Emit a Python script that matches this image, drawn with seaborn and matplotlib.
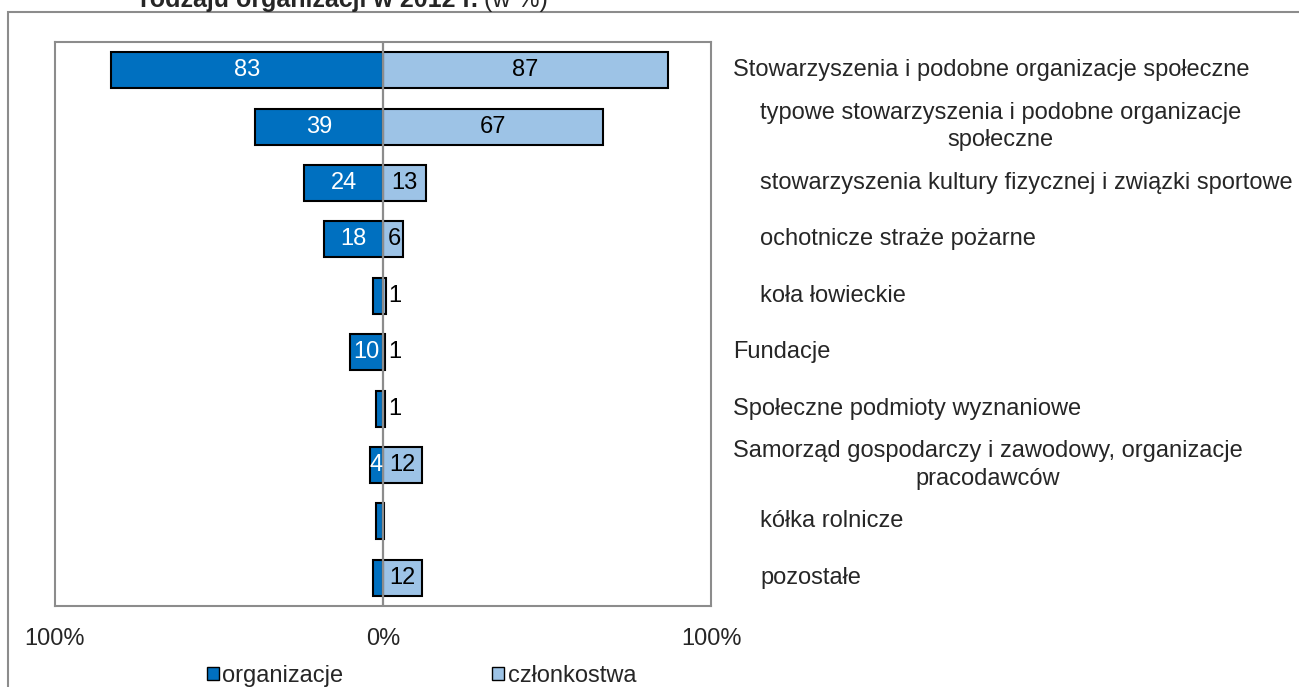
import numpy as np
import pandas as pd
import matplotlib
matplotlib.use("Agg")
import matplotlib.pyplot as plt
from matplotlib.patches import Patch, Rectangle
import seaborn as sns

# data (w %)
categories = [
    "Stowarzyszenia i podobne organizacje społeczne",
    "typowe stowarzyszenia i podobne organizacje\nspołeczne",
    "stowarzyszenia kultury fizycznej i związki sportowe",
    "ochotnicze straże pożarne",
    "koła łowieckie",
    "Fundacje",
    "Społeczne podmioty wyznaniowe",
    "Samorząd gospodarczy i zawodowy, organizacje\npracodawców",
    "kółka rolnicze",
    "pozostałe",
]
organizacje = [83, 39, 24, 18, 3, 10, 2, 4, 2, 3]
czlonkostwa = [87, 67, 13, 6, 1, 0.5, 0.6, 12, 0.3, 12]
org_labels = ["83", "39", "24", "18", "", "10", "", "4", "", ""]
czl_labels = ["87", "67", "13", "6", "1", "1", "1", "12", "", "12"]
indent = [False, True, True, True, True, False, False, False, True, True]

dark = "#0070C0"
light = "#9DC3E6"

sns.set_style("white")
plt.rcParams["font.family"] = ["Liberation Sans", "DejaVu Sans"]

df = pd.DataFrame({"kat": categories, "org": organizacje, "czl": czlonkostwa})
df["org_neg"] = -df["org"]

W, H = 1299, 687
fig = plt.figure(figsize=(W / 100, H / 100), dpi=100)
ax = fig.add_axes([55 / W, 1 - 606 / H, (711 - 55) / W, (606 - 42) / H])

sns.barplot(data=df, x="org_neg", y="kat", color=dark, width=0.64,
            edgecolor="black", linewidth=1.5, saturation=1, ax=ax, zorder=2)
sns.barplot(data=df, x="czl", y="kat", color=light, width=0.64,
            edgecolor="black", linewidth=1.5, saturation=1, ax=ax, zorder=2)

fs = 17
ax.set_xlim(-100, 100)
ax.set_ylim(9.5, -0.5)
ax.axvline(0, color="#8c8c8c", lw=1.6, zorder=5)
ax.set_xticks([-100, 0, 100])
ax.set_xticklabels(["100%", "0%", "100%"], fontsize=fs)
ax.tick_params(axis="x", length=0, pad=16)
ax.set_yticks([])
ax.set_xlabel("")
ax.set_ylabel("")
for s in ax.spines.values():
    s.set_color("#8c8c8c")
    s.set_linewidth(1.5)
    s.set_visible(True)

for i in range(len(categories)):
    if org_labels[i]:
        ax.text(-organizacje[i] / 2, i, org_labels[i], color="white",
                ha="center", va="center", fontsize=fs, zorder=6)
    if czl_labels[i]:
        ax.text(max(czlonkostwa[i] / 2, 3.5), i, czl_labels[i], color="black",
                ha="center", va="center", fontsize=fs, zorder=6)
    x0 = 760 if indent[i] else 733
    ax.text((x0 - 383) / 328 * 100, i, categories[i], ha="left", va="center",
            multialignment="center", fontsize=fs, linespacing=1.3,
            clip_on=False)

# outer chart frame
fig.patches.append(Rectangle((8 / W, -0.05), 1.2, 1 - 12 / H + 0.05,
                             transform=fig.transFigure, fill=False,
                             edgecolor="#8c8c8c", lw=1.5))

# title, cut by the top edge as in the source
t1 = fig.text(140 / W, 1 - 7 / H, "rodzaju organizacji w 2012 r.", fontsize=18,
              fontweight="bold", va="baseline", ha="left")
fig.canvas.draw()
bb = t1.get_window_extent()
fig.text(bb.x1 / W + 6 / W, 1 - 7 / H, "(w %)", fontsize=18,
         va="baseline", ha="left")

handles = [Patch(facecolor=dark, edgecolor="black", label="organizacje"),
           Patch(facecolor=light, edgecolor="black", label="członkostwa")]
fig.legend(handles=handles, loc="center left", bbox_to_anchor=(207 / W, 1 - 676 / H),
           ncol=2, frameon=False, fontsize=fs, handlelength=0.5, handleheight=0.5,
           handletextpad=0.15, columnspacing=6.3, borderpad=0, borderaxespad=0)

fig.savefig("out.png", dpi=100)
